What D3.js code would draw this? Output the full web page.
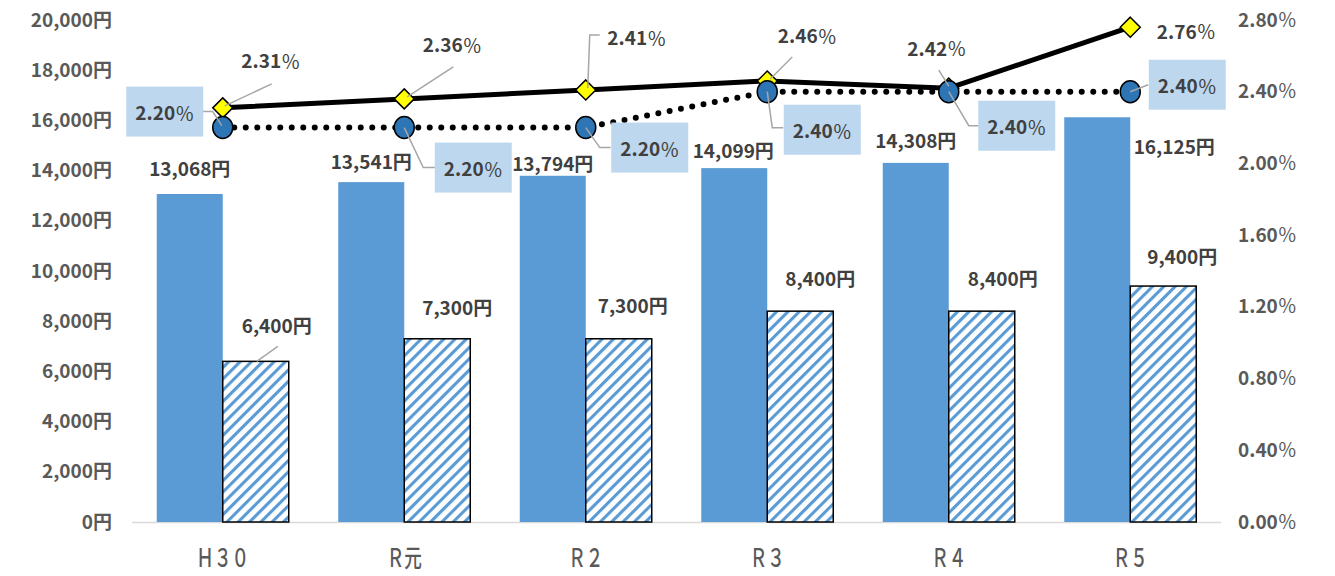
<!DOCTYPE html>
<html>
<head>
<meta charset="utf-8">
<script src="https://cdn.jsdelivr.net/npm/d3@7"></script>
<style>
  body { margin: 0; background: #fff; }
  text { font-family: "Noto Sans CJK JP", "Noto Sans", sans-serif; }
</style>
</head>
<body>
<svg id="chart" width="1335" height="576"></svg>
<script>
// data
var categories = ["Ｈ３０", "Ｒ元", "Ｒ２", "Ｒ３", "Ｒ４", "Ｒ５"];
var barA = [13068, 13541, 13794, 14099, 14308, 16125];
var barB = [6400, 7300, 7300, 8400, 8400, 9400];
var lineA = [2.31, 2.36, 2.41, 2.46, 2.42, 2.76];
var lineB = [2.20, 2.20, 2.20, 2.40, 2.40, 2.40];
var yenTicks = [0, 2000, 4000, 6000, 8000, 10000, 12000, 14000, 16000, 18000, 20000];
var pctTicks = [0, 0.4, 0.8, 1.2, 1.6, 2.0, 2.4, 2.8];

// label placement (offsets from the mark)
var barALabelOff = [[0, -26], [0, -22], [0, -13], [-1, -19], [0, -23], [77, 28]];
var barBLabelOff = [[21, -37], [20, -32], [14, -34], [20, -34], [21, -34], [19, -31]];
var lineALabelOff = [[48, -48], [48, -55], [51, -53], [40, -46], [-12, -41], [56, 3]];
var lineBLabelOff = [[-58, -16], [69, 40], [64, 20], [55, 38], [68, 34], [57, -7]];
var barBLeaders = [[[22, -15], [1, 0]], null, null, null, null, null];
var lineALeaders = [
    [[49, -24], [2, -2]],
    [[49, -32], [3, -2]],
    [[14, -55], [4, -55], [2, -2]],
    [[25, -24], [3, -2]],
    [[-10, -18], [0, -2]],
    null
];
var lineBLeaders = [
    [[-20, -16], [-10, -16], [-1, -2]],
    [[0, 0], [19, 40], [31, 40]],
    [[0, 0], [14, 20], [25, 20]],
    [[0, 0], [5, 36], [16, 36]],
    [[0, 0], [20, 34], [30, 34]],
    [[0, 0], [18, -7]]
];

var W = 1335, H = 576;
var mLeft = 132, mRight = 1221, mTop = 20, mBottom = 522;
var barW = 66;
var blue = '#5B9BD5';
var txt = '#404040';
var axisTxt = '#595959';

var svg = d3.select('#chart');
svg.append('rect').attr('width', W).attr('height', H).attr('fill', '#fff');

var defs = svg.append('defs');
var pat = defs.append('pattern')
    .attr('id', 'hatch')
    .attr('patternUnits', 'userSpaceOnUse')
    .attr('width', 8).attr('height', 8)
    .attr('patternTransform', 'rotate(45)');
pat.append('rect').attr('width', 8).attr('height', 8).attr('fill', '#fff');
pat.append('rect').attr('width', 3.1).attr('height', 8).attr('fill', blue);

var x = d3.scaleBand().domain(categories).range([mLeft, mRight]);
var yL = d3.scaleLinear().domain([0, 20000]).range([mBottom, mTop]);
var yR = d3.scaleLinear().domain([0, 2.8]).range([mBottom, mTop]);

function cx(i) { return x(categories[i]) + x.bandwidth() / 2; }

// left axis
var axL = svg.append('g')
    .attr('transform', 'translate(' + mLeft + ',0)')
    .call(d3.axisLeft(yL).tickValues(yenTicks).tickSize(0).tickPadding(20)
        .tickFormat(function (d) { return d3.format(',')(d) + '円'; }));
axL.select('.domain').remove();
axL.selectAll('text')
    .attr('fill', axisTxt)
    .style('font-size', '19px')
    .style('font-weight', 'bold')
    .style('font-family', '"Noto Sans CJK JP", sans-serif');

// right axis
var axR = svg.append('g')
    .attr('transform', 'translate(' + mRight + ',0)')
    .call(d3.axisRight(yR).tickValues(pctTicks).tickSize(0).tickPadding(17)
        .tickFormat(function (d) { return d.toFixed(2); }));
axR.select('.domain').remove();
axR.selectAll('text')
    .attr('fill', axisTxt)
    .style('font-size', '19px')
    .style('font-weight', 'bold')
    .style('font-family', '"Noto Sans CJK JP", sans-serif')
    .append('tspan').style('font-weight', 'normal').text('％');

// baseline
svg.append('line')
    .attr('x1', mLeft).attr('x2', mRight)
    .attr('y1', mBottom + 0.5).attr('y2', mBottom + 0.5)
    .attr('stroke', '#D9D9D9').attr('stroke-width', 1.5);

// category labels
svg.append('g').selectAll('text')
    .data(categories)
    .enter().append('text')
    .attr('transform', function (d) { return 'translate(' + (x(d) + x.bandwidth() / 2) + ',556) scale(0.8,1.15)'; })
    .attr('text-anchor', 'middle')
    .attr('dominant-baseline', 'central')
    .attr('fill', axisTxt)
    .style('font-size', '22px')
    .style('font-weight', '500')
    .text(function (d) { return d; });

// bars
svg.append('g').selectAll('rect')
    .data(barA)
    .enter().append('rect')
    .attr('x', function (d, i) { return cx(i) - barW; })
    .attr('y', function (d) { return yL(d); })
    .attr('width', barW)
    .attr('height', function (d) { return mBottom - yL(d); })
    .attr('fill', blue);

svg.append('g').selectAll('rect')
    .data(barB)
    .enter().append('rect')
    .attr('x', function (d, i) { return cx(i); })
    .attr('y', function (d) { return yL(d); })
    .attr('width', barW)
    .attr('height', function (d) { return mBottom - yL(d); })
    .attr('fill', 'url(#hatch)')
    .attr('stroke', '#000')
    .attr('stroke-width', 1.5);

// lines
var lineGen = function (vals) {
    return d3.line()
        .x(function (d, i) { return cx(i); })
        .y(function (d) { return yR(d); })(vals);
};

svg.append('path')
    .attr('d', lineGen(lineA))
    .attr('fill', 'none')
    .attr('stroke', '#000')
    .attr('stroke-width', 5)
    .attr('stroke-linejoin', 'round');

svg.append('g').selectAll('path')
    .data(lineA)
    .enter().append('path')
    .attr('d', 'M0,-10L10,0L0,10L-10,0Z')
    .attr('transform', function (d, i) { return 'translate(' + cx(i) + ',' + yR(d) + ')'; })
    .attr('fill', '#FFFF00')
    .attr('stroke', '#000')
    .attr('stroke-width', 1.5);

svg.append('path')
    .attr('d', lineGen(lineB))
    .attr('fill', 'none')
    .attr('stroke', '#000')
    .attr('stroke-width', 6)
    .attr('stroke-linecap', 'round')
    .attr('stroke-dasharray', '0 11.5');

svg.append('g').selectAll('ellipse')
    .data(lineB)
    .enter().append('ellipse')
    .attr('cx', function (d, i) { return cx(i); })
    .attr('cy', function (d) { return yR(d); })
    .attr('rx', 10).attr('ry', 11)
    .attr('fill', '#2E75B6')
    .attr('stroke', '#000')
    .attr('stroke-width', 1.5);

// leader lines
function drawLeaders(leaders, px, py) {
    leaders.forEach(function (pts, i) {
        if (!pts) return;
        svg.append('polyline')
            .attr('points', pts.map(function (p) { return (px(i) + p[0]) + ',' + (py(i) + p[1]); }).join(' '))
            .attr('fill', 'none')
            .attr('stroke', '#A6A6A6')
            .attr('stroke-width', 1.5);
    });
}
drawLeaders(barBLeaders, function (i) { return cx(i) + barW / 2; }, function (i) { return yL(barB[i]); });
drawLeaders(lineALeaders, cx, function (i) { return yR(lineA[i]); });
drawLeaders(lineBLeaders, cx, function (i) { return yR(lineB[i]); });

// data labels
function yenLabel(vals, offs, px) {
    svg.append('g').selectAll('text')
        .data(vals)
        .enter().append('text')
        .attr('x', function (d, i) { return px(i) + offs[i][0]; })
        .attr('y', function (d, i) { return yL(d) + offs[i][1]; })
        .attr('text-anchor', 'middle')
        .attr('dominant-baseline', 'central')
        .attr('fill', txt)
        .style('font-size', '19px')
        .style('font-weight', 'bold')
        .text(function (d) { return d3.format(',')(d) + '円'; });
}
yenLabel(barA, barALabelOff, function (i) { return cx(i) - barW / 2; });
yenLabel(barB, barBLabelOff, function (i) { return cx(i) + barW / 2; });

function pctLabel(vals, offs, boxed) {
    var g = svg.append('g').selectAll('g')
        .data(vals)
        .enter().append('g')
        .attr('transform', function (d, i) {
            return 'translate(' + (cx(i) + offs[i][0]) + ',' + (yR(d) + offs[i][1]) + ')';
        });
    if (boxed) {
        g.append('rect')
            .attr('x', -38.5).attr('y', -25)
            .attr('width', 77).attr('height', 50)
            .attr('fill', '#BDD7EE');
    }
    var t = g.append('text')
        .attr('text-anchor', 'middle')
        .attr('dominant-baseline', 'central')
        .attr('fill', txt)
        .style('font-size', '19px')
        .style('font-weight', 'bold')
        .text(function (d) { return d.toFixed(2); });
    t.append('tspan').style('font-weight', 'normal').text('％');
}
pctLabel(lineA, lineALabelOff, false);
pctLabel(lineB, lineBLabelOff, true);
</script>
</body>
</html>
